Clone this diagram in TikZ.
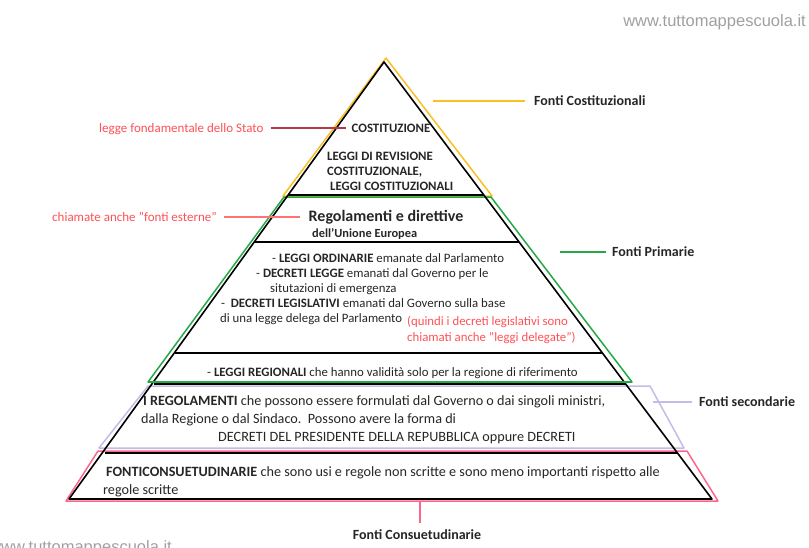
\documentclass[tikz,border=0pt]{standalone}
\usepackage{fontspec}
\setmainfont{Carlito}
\newfontfamily\markfont{Liberation Sans}
\usetikzlibrary{calc}

\definecolor{costgold}{RGB}{250,192,35}
\definecolor{primgreen}{RGB}{35,170,70}
\definecolor{seclav}{RGB}{196,188,232}
\definecolor{conspink}{RGB}{255,100,140}
\definecolor{notered}{RGB}{255,80,85}
\definecolor{fondred}{RGB}{180,55,75}
\definecolor{markgray}{RGB}{160,160,160}

\tikzset{
  pyr/.style={line width=1.6pt, line join=round},
  band/.style={line width=1.5pt, line join=round},
  txt/.style={anchor=base west, inner sep=0pt, text=black!85, font=\fontsize{12.8}{15}\selectfont},
  bigtxt/.style={txt, font=\fontsize{14.2}{17}\selectfont},
  caps/.style={anchor=base west, inner sep=0pt, text=black!85, font=\fontsize{12.8}{15}\selectfont\bfseries},
  lbl/.style={anchor=base west, inner sep=0pt, text=black!85, font=\fontsize{14}{16}\selectfont\bfseries},
  note/.style={anchor=base west, inner sep=0pt, text=notered, font=\fontsize{13}{15}\selectfont},
  lead/.style={line width=1.4pt}
}

\begin{document}
\begin{tikzpicture}[x=1pt, y=-1pt]
  \useasboundingbox (0,0) rectangle (809,547);

  % watermarks
  \node[anchor=base east, inner sep=0pt, text=markgray, font=\markfont\fontsize{16.5}{18}\selectfont] (markA) at (806,26) {www.tuttomappescuola.it};
  \node[anchor=base east, inner sep=0pt, text=markgray, font=\markfont\fontsize{16.5}{18}\selectfont] (markB) at (172,552) {www.tuttomappescuola.it};

  % coloured bands
  \draw[band, costgold] (386,58) -- (283,196) -- (492,196) -- cycle;
  \draw[band, primgreen] (284,197) -- (491,197) -- (632,382) -- (148,382) -- cycle;
  \draw[band, seclav] (148,386) -- (650,386) -- (684,448) -- (99,448) -- cycle;
  \draw[band, conspink] (98,451) -- (687,451) -- (718,501) -- (66,501) -- cycle;

  % black pyramid
  \coordinate (apex) at (384,62);
  \coordinate (bl) at (69,499);
  \coordinate (br) at (712,499);
  \draw[pyr] (apex) -- (bl) -- (br) -- cycle;
  \draw[pyr] (288,195) -- (484,195);
  \draw[pyr, line width=1.2pt] (255,242) -- (519,242);
  \draw[pyr, line width=1.2pt] (175,353) -- (603,353);
  \draw[pyr, line width=1.2pt] (154,384) -- (625,384);
  \draw[pyr] (105,453) -- (677,453);
  \draw[band, primgreen] (148,382) -- (632,382);

  % top
  \node[caps, anchor=base] (costit) at (391,132) {COSTITUZIONE};
  \node[caps] (rev1) at (327,160) {LEGGI DI REVISIONE};
  \node[caps] (rev2) at (327,175) {COSTITUZIONALE,};
  \node[caps] (rev3) at (330,190) {LEGGI COSTITUZIONALI};

  % primary sources
  \node[caps, anchor=base, font=\fontsize{16}{18}\selectfont\bfseries] (regue) at (386,221) {Regolamenti e direttive};
  \node[caps, font=\fontsize{12.4}{14}\selectfont\bfseries] (unione) at (312,237) {dell'Unione Europea};
  \node[txt] (ord) at (272,262) {- \textbf{LEGGI ORDINARIE} emanate dal Parlamento};
  \node[txt] (dl1) at (256,277) {- \textbf{DECRETI LEGGE} emanati dal Governo per le};
  \node[txt] (dl2) at (270,292) {situtazioni di emergenza};
  \node[txt] (dlg1) at (221,307) {-\ \ \textbf{DECRETI LEGISLATIVI} emanati dal Governo sulla base};
  \node[txt] (dlg2) at (220,322) {di una legge delega del Parlamento};
  \node[txt, text=notered] (quindi1) at (407,325) {(quindi i decreti legislativi sono};
  \node[txt, text=notered] (quindi2) at (407,341) {chiamati anche "leggi delegate")};
  \node[txt] (reg) at (207,376) {- \textbf{LEGGI REGIONALI} che hanno validità solo per la regione di riferimento};

  % secondary sources
  \node[bigtxt] (rego1) at (143,405) {\textbf{I REGOLAMENTI} che possono essere formulati dal Governo o dai singoli ministri,};
  \node[bigtxt] (rego2) at (141,423) {dalla Regione o dal Sindaco.\ \ Possono avere la forma di};
  \node[bigtxt] (rego3) at (218,441) {DECRETI DEL PRESIDENTE DELLA REPUBBLICA oppure DECRETI};

  % customary sources
  \node[bigtxt] (cons1) at (106,476) {\textbf{FONTICONSUETUDINARIE} che sono usi e regole non scritte e sono meno importanti rispetto alle};
  \node[bigtxt] (cons2) at (103,494) {regole scritte};

  % side labels
  \node[lbl] (fcost) at (534,105) {Fonti Costituzionali};
  \node[lbl] (fprim) at (612,256) {Fonti Primarie};
  \node[lbl] (fsec) at (699,406) {Fonti secondarie};
  \node[lbl, anchor=base] (fcons) at (417,539) {Fonti Consuetudinarie};
  \node[note] (fond) at (99,132) {legge fondamentale dello Stato};
  \node[note] (ester) at (52,221) {chiamate anche "fonti esterne"};

  \coordinate (cgold) at (433,101);
  \coordinate (cgreen) at (560,252);
  \coordinate (clav) at (653,402);
  \coordinate (cpink) at (420,501);
  \coordinate (cfond) at (346,128);
  \coordinate (cester) at (300,217);

  \draw[lead, costgold, shorten >=9pt] (cgold) -- (cgold -| fcost.west);
  \draw[lead, primgreen, shorten >=6pt] (cgreen) -- (cgreen -| fprim.west);
  \draw[lead, seclav, shorten >=7pt] (clav) -- (clav -| fsec.west);
  \draw[lead, conspink, shorten >=6pt] (cpink) -- (cpink |- fcons.north);
  \draw[lead, fondred, line width=1.1pt, shorten <=7pt] (cfond -| fond.east) -- (cfond);
  \draw[lead, notered!80, line width=1.1pt, shorten <=7pt] (cester -| ester.east) -- (cester);
\end{tikzpicture}
\end{document}
